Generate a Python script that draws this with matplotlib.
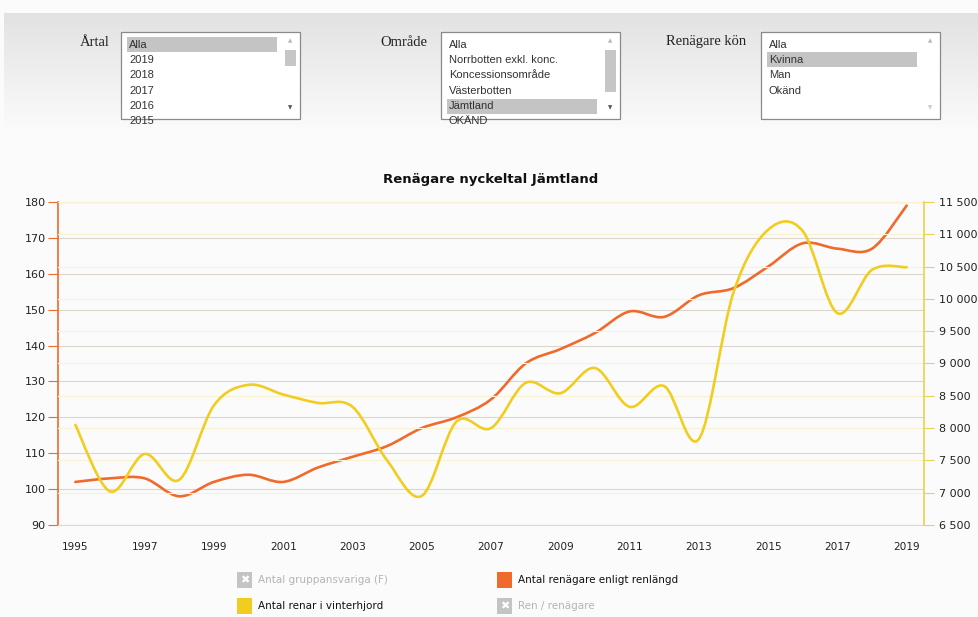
import numpy as np
import matplotlib
matplotlib.use("Agg")
from matplotlib import pyplot as plt
from matplotlib.path import Path
from matplotlib.patches import PathPatch, Rectangle

# data
years = np.arange(1995, 2020)
renagare = [102, 103, 103, 98, 102, 104, 102, 106, 109, 112, 117, 120, 125,
            135, 139, 143.5, 149.5, 148, 154, 156, 162, 168.5, 167, 167, 179]
renar = [8050, 7020, 7600, 7200, 8350, 8670, 8520, 8390, 8330, 7500, 6950, 8100,
         8000, 8700, 8540, 8930, 8330, 8650, 7830, 10100, 11070, 11050, 9780,
         10450, 10490]

left_ticks = list(range(90, 181, 10))
right_ticks = list(range(6500, 11501, 500))
x_ticks = list(range(1995, 2020, 2))

artal_items = ["Alla", "2019", "2018", "2017", "2016", "2015"]
omrade_items = ["Alla", "Norrbotten exkl. konc.", "Koncessionsområde",
                "Västerbotten", "Jämtland", "OKÄND"]
kon_items = ["Alla", "Kvinna", "Man", "Okänd"]

orange = "#ef6a2b"
yellow = "#f1cd20"

W, H = 979, 617
fig = plt.figure(figsize=(W / 100, H / 100), dpi=100, facecolor="#fbfbfb")


def smooth(ax, xs, ys, color):
    # cubic bezier through the points (catmull-rom style)
    xs = np.asarray(xs, float)
    ys = np.asarray(ys, float)
    pts = np.column_stack([xs, ys])
    verts = [pts[0]]
    codes = [Path.MOVETO]
    n = len(pts)
    for i in range(n - 1):
        p0 = pts[max(i - 1, 0)]
        p1 = pts[i]
        p2 = pts[i + 1]
        p3 = pts[min(i + 2, n - 1)]
        c1 = p1 + (p2 - p0) / 6.0
        c2 = p2 - (p3 - p1) / 6.0
        verts += [c1, c2, p2]
        codes += [Path.CURVE4] * 3
    patch = PathPatch(Path(verts, codes), fill=False, edgecolor=color,
                      lw=1.9, transform=ax.transData, zorder=5,
                      capstyle="round", joinstyle="round")
    ax.add_patch(patch)


ui = fig.add_axes([0, 0, 1, 1], zorder=3)
ui.set_xlim(0, W)
ui.set_ylim(H, 0)
ui.axis("off")
ui.patch.set_alpha(0)

# top filter panel, grey fading downwards
for k in range(60):
    g = 0.885 + 0.10 * k / 59
    ui.add_patch(Rectangle((4, 13 + k * 2), W - 4, 2.05, facecolor=(g, g, g),
                           edgecolor="none", zorder=0))

serif = ["Liberation Serif", "DejaVu Serif"]
narrow = ["Liberation Sans Narrow", "Liberation Sans", "DejaVu Sans"]


def listbox(x0, label, lx, items, sel, thumb):
    ui.text(lx, 42, label, family=serif, fontsize=10.5, ha="left", va="center",
            color="#222222")
    box = Rectangle((x0, 32), 179, 87, facecolor="white", edgecolor="#8a8a8a",
                    lw=0.9, zorder=1)
    ui.add_patch(box)
    ui.add_patch(Rectangle((x0 + 6, 37 + 15.4 * sel), 150, 15,
                           facecolor="#c4c4c4", edgecolor="none", zorder=2))
    for k, it in enumerate(items):
        t = ui.text(x0 + 8, 44.5 + 15.4 * k, it, family=narrow, fontsize=8,
                    ha="left", va="center", color="#333333", zorder=3)
        t.set_clip_path(box)
    ui.text(x0 + 169, 41, "\u25b2", fontsize=4, ha="center", va="center",
            color="#b8b8b8", zorder=3)
    ui.text(x0 + 169, 108, "\u25bc", fontsize=4, ha="center", va="center",
            color="#555555" if thumb else "#c8c8c8", zorder=3)
    if thumb:
        ui.add_patch(Rectangle((x0 + 164, 50), 11, thumb, facecolor="#c6c6c6",
                               edgecolor="none", zorder=3))


listbox(121, "Årtal", 80, artal_items, 0, 16)
listbox(441, "Område", 380, omrade_items, 4, 42)
listbox(761, "Renägare kön", 666, kon_items, 1, 0)

# chart
ax = fig.add_axes([58 / W, 1 - 525 / H, (924 - 58) / W, (525 - 202) / H],
                  zorder=2)
ax.patch.set_alpha(0)
ax2 = ax.twinx()

ax.set_xlim(1994.5, 2019.5)
ax.set_ylim(90, 180)
ax2.set_ylim(6500, 11500)

ax.set_yticks(left_ticks)
ax2.set_yticks(right_ticks)
ax.set_xticks(x_ticks)
ax2.set_yticklabels([f"{v:,}".replace(",", " ") for v in right_ticks])

ax.grid(axis="y", color="#dcd6cc", lw=0.8)
for v in right_ticks:
    ax2.axhline(v, color="#f8f2d2", lw=0.8, zorder=0)

for s in ["top", "bottom"]:
    ax.spines[s].set_color("#e6d8b8")
    ax.spines[s].set_linewidth(0.8)
ax.spines["left"].set_color(orange)
ax.spines["left"].set_linewidth(1.2)
ax.spines["right"].set_visible(False)
for s in ["top", "bottom", "left"]:
    ax2.spines[s].set_visible(False)
ax2.spines["right"].set_color("#e8d24a")
ax2.spines["right"].set_linewidth(1.2)

ax.tick_params(axis="y", length=7, color=orange, labelsize=8, pad=2,
               labelcolor="#222222")
ax.tick_params(axis="x", length=0, labelsize=7.6, pad=12, labelcolor="#222222")
ax2.tick_params(axis="y", length=7, color="#e8d24a", labelsize=8, pad=4,
                labelcolor="#222222")

smooth(ax, years, renagare, orange)
smooth(ax2, years, renar, yellow)

ax.set_title("Renägare nyckeltal Jämtland", fontsize=9.5, fontweight="bold",
             color="#111111", pad=14)


# legend
def legend_item(x, y, label, color, active):
    if active:
        ui.add_patch(Rectangle((x, y - 8), 15, 16, facecolor=color,
                               edgecolor="none"))
        tc = "#111111"
    else:
        ui.add_patch(Rectangle((x, y - 8), 15, 16, facecolor="#c4c4c4",
                               edgecolor="none"))
        ui.text(x + 7.5, y + 0.5, "\u2716", fontsize=8, ha="center",
                va="center", color="white")
        tc = "#b4b4b4"
    ui.text(x + 21, y, label, fontsize=7.5, ha="left", va="center", color=tc)


legend_item(237, 580, "Antal gruppansvariga (F)", "#c4c4c4", False)
legend_item(497, 580, "Antal renägare enligt renlängd", orange, True)
legend_item(237, 606, "Antal renar i vinterhjord", yellow, True)
legend_item(497, 606, "Ren / renägare", "#c4c4c4", False)

fig.savefig("out.png", dpi=100, facecolor=fig.get_facecolor())
